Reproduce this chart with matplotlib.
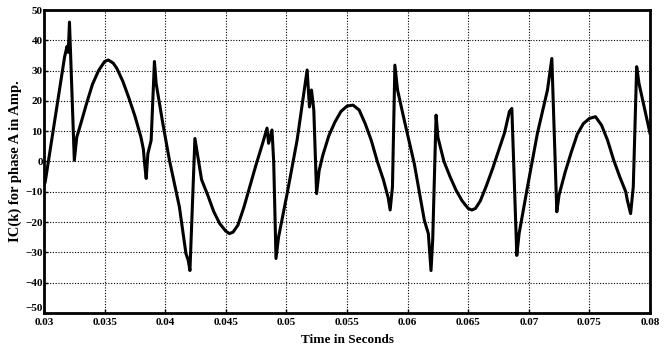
import matplotlib
matplotlib.use("Agg")
import matplotlib.pyplot as plt

time_s = [0.0300, 0.0301, 0.0317, 0.0319, 0.0320, 0.0321, 0.0325,
          0.0327, 0.0330, 0.0335, 0.0340, 0.0345, 0.0350, 0.0353, 0.0357, 0.0360, 0.0365, 0.0370,
          0.0375, 0.0380, 0.0382, 0.0383, 0.03843, 0.03857, 0.03884, 0.03911,
          0.03925, 0.0398, 0.04035, 0.04117, 0.04171, 0.04190, 0.04204, 0.04245,
          0.0430, 0.0435, 0.0440, 0.0445, 0.0450, 0.0453, 0.0456, 0.0460, 0.0465, 0.0470, 0.0475,
          0.0480, 0.0484, 0.04853, 0.04881, 0.04895, 0.04914, 0.04935, 0.05006, 0.05088, 0.05171,
          0.05190, 0.05207, 0.05226, 0.05249,
          0.0527, 0.0530, 0.0535, 0.0540, 0.0545, 0.0550, 0.0555, 0.0560, 0.0565, 0.0570, 0.0575,
          0.0580, 0.0584, 0.05856, 0.05875, 0.05895, 0.05917, 0.05972, 0.06055, 0.06138, 0.06171,
          0.06193, 0.06207, 0.06235,
          0.0625, 0.0630, 0.0635, 0.0640, 0.0645, 0.0650, 0.0653, 0.0656, 0.0660, 0.0665, 0.0670,
          0.0675, 0.0680, 0.0684, 0.0686, 0.06901, 0.06920, 0.06989, 0.07071, 0.07154, 0.0719,
          0.07231,
          0.0725, 0.0730, 0.0735, 0.0740, 0.0745, 0.0750, 0.0755, 0.0760, 0.0765, 0.0770, 0.0775,
          0.0780, 0.07813, 0.0784, 0.07862, 0.0789, 0.07909, 0.0800]
current_a = [-8.0, -6.7, 34.6, 38.0, 36.0, 46.0, 0.4,
             8.0, 12.0, 19.0, 25.5, 30.0, 33.0, 33.5, 32.5, 30.8, 26.5, 21.0,
             15.0, 8.0, 4.0, -0.7, -5.6, 2.6, 7.0, 33.0,
             25.8, 12.6, 0.4, -15.0, -30.4, -32.6, -36.0, 7.6,
             -6.0, -11.0, -16.5, -20.5, -23.0, -23.8, -23.3, -21.0, -15.0, -8.0, -1.0,
             5.5, 11.0, 6.0, 10.4, 0.0, -32.0, -25.0, -10.6, 7.0, 30.2,
             18.0, 23.6, 17.0, -10.6,
             -3.0, 2.0, 8.5, 13.0, 16.5, 18.3, 18.6, 17.0, 12.5, 7.0, 0.0,
             -6.0, -12.0, -16.0, -8.4, 31.8, 23.6, 13.7, -0.7, -19.4, -23.8,
             -36.0, -26.0, 15.3,
             8.0, 0.0, -5.0, -9.5, -13.0, -15.5, -16.0, -15.5, -13.0, -8.0, -2.5,
             3.5, 9.5, 16.5, 17.5, -31.0, -23.8, -8.4, 9.3, 23.6, 34.0,
             -16.6,
             -11.0, -3.5, 3.0, 9.0, 12.5, 14.2, 14.8, 12.0, 7.0, 0.5, -5.0,
             -10.0, -12.8, -17.2, -8.4, 31.3, 25.8, 9.3]

x_ticks = [0.03, 0.035, 0.04, 0.045, 0.05, 0.055, 0.06, 0.065, 0.07, 0.075, 0.08]
x_tick_labels = ["0.03", "0.035", "0.04", "0.045", "0.05", "0.055", "0.06", "0.065", "0.07", "0.075", "0.08"]
y_ticks = [-50, -40, -30, -20, -10, 0, 10, 20, 30, 40, 50]

plt.rcParams['font.family'] = ['Liberation Serif', 'DejaVu Serif']
fig = plt.figure(figsize=(6.69, 3.51), dpi=100)
ax = fig.add_axes([0.0658, 0.1083, 0.9058, 0.8632])
ax.plot(time_s, current_a, color='black', linewidth=2.2, solid_joinstyle='round')
ax.set_xlim(0.03, 0.08)
ax.set_ylim(-50, 50)
ax.set_xticks(x_ticks)
ax.set_xticklabels(x_tick_labels)
ax.set_yticks(y_ticks)
ax.grid(True, color='black', linestyle=(0, (1, 1.5)), linewidth=0.8)
ax.tick_params(axis='both', direction='in', length=3, width=1, labelsize=8)
ax.tick_params(axis='x', pad=3.5)
ax.tick_params(axis='y', pad=1)
for lab in ax.get_xticklabels() + ax.get_yticklabels():
    lab.set_fontweight('bold')
for sp in ax.spines.values():
    sp.set_linewidth(2)
ax.set_xlabel("Time in Seconds", fontsize=9.5, fontweight='bold', labelpad=5)
ax.set_ylabel("IC(k) for phase A in Amp.", fontsize=10.5, fontweight='bold', labelpad=2)
fig.canvas.draw()
ylabs = ax.get_yticklabels()
ylabs[0].set_verticalalignment('bottom')
fig.savefig("out.png", dpi=100)
